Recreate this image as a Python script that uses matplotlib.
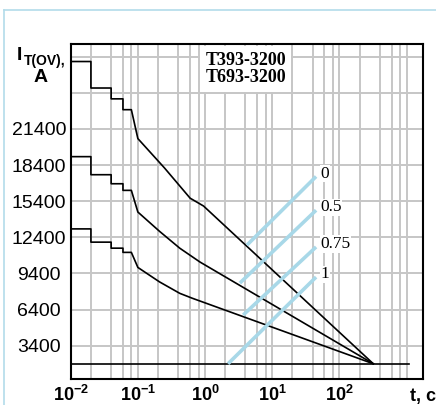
import matplotlib
matplotlib.use("Agg")
import matplotlib.pyplot as plt
from matplotlib.lines import Line2D

# overload current curves (t in s, current in A)
t_0 = [0.01, 0.02, 0.02, 0.04, 0.04, 0.06, 0.06, 0.08, 0.1, 0.25, 0.6, 0.95, 320]
i_0 = [27000, 27000, 24800, 24800, 23900, 23900, 23000, 23000, 20600, 18150, 15650, 15000, 1900]

t_05 = [0.01, 0.02, 0.02, 0.04, 0.04, 0.06, 0.06, 0.08, 0.1, 0.21, 0.42, 0.84, 320]
i_05 = [19100, 19100, 17600, 17600, 16850, 16850, 16300, 16300, 14500, 12900, 11500, 10350, 1900]

t_1 = [0.01, 0.02, 0.02, 0.04, 0.04, 0.06, 0.06, 0.08, 0.1, 0.21, 0.42, 0.64, 320]
i_1 = [13100, 13100, 12000, 12000, 11500, 11500, 11150, 11150, 9900, 8700, 7750, 7350, 1900]

base_t = [0.01, 1100]
base_i = [1900, 1900]

# light blue load-factor lines
blue_labels = ["0", "0.5", "0.75", "1"]
blue_t_start = [4.2, 3.3, 3.7, 2.2]
blue_t_end = [45, 45, 45, 45]
blue_i_start = [11750, 8600, 5950, 1900]
blue_i_end = [17450, 14650, 11600, 9100]

y_ticks = [3400, 6400, 9400, 12400, 15400, 18400, 21400, 24400, 27400]
y_labels = ["3400", "6400", "9400", "12400", "15400", "18400", "21400", "", ""]
x_ticks = [0.01, 0.1, 1, 10, 100, 1000]
x_labels = [r"$\mathbf{10^{-2}}$", r"$\mathbf{10^{-1}}$", r"$\mathbf{10^{0}}$",
            r"$\mathbf{10^{1}}$", r"$\mathbf{10^{2}}$", ""]
x_minor = [m * d for d in [0.01, 0.1, 1, 10, 100] for m in [2, 4, 6, 8]]

plt.rcParams["font.family"] = ["Liberation Sans", "DejaVu Sans"]
plt.rcParams["mathtext.fontset"] = "custom"
plt.rcParams["mathtext.rm"] = "Liberation Sans"
plt.rcParams["mathtext.bf"] = "Liberation Sans:bold"

W, H = 436, 405
fig = plt.figure(figsize=(W / 100, H / 100), dpi=100)
ax = fig.add_axes([70.7 / W, 1 - 379.3 / H, 352 / W, 335 / H])

ax.set_xscale("log")
ax.set_xlim(0.01, 1740)
ax.set_ylim(610, 28430)

ax.set_xticks(x_ticks, x_labels)
ax.set_xticks(x_minor, minor=True)
ax.set_yticks(y_ticks, y_labels)
ax.tick_params(which="both", length=0)
ax.tick_params(axis="x", labelsize=13, pad=4)
ax.tick_params(axis="y", labelsize=14, pad=23)
for lab in ax.get_yticklabels():
    lab.set_ha("center")

ax.grid(which="both", color="#c6c6c6", linewidth=1.4)
ax.set_axisbelow(True)
for sp in ax.spines.values():
    sp.set_linewidth(1.5)
    sp.set_color("black")

for t, i in [(t_0, i_0), (t_05, i_05), (t_1, i_1), (base_t, base_i)]:
    ax.plot(t, i, color="black", linewidth=1.2, zorder=3)

for k in range(len(blue_labels)):
    ax.plot([blue_t_start[k], blue_t_end[k]], [blue_i_start[k], blue_i_end[k]],
            color="#a8d8e8", linewidth=2.6, solid_capstyle="butt", zorder=4)
    ax.annotate(blue_labels[k], (blue_t_end[k], blue_i_end[k]), xytext=(3, 2),
                textcoords="offset points", ha="left", va="center",
                fontsize=12.5, family="Liberation Serif", zorder=5,
                bbox=dict(facecolor="white", edgecolor="none", pad=0.5))

ax.text(245.5 / W, 1 - 69 / H, "T393-3200\nT693-3200", transform=fig.transFigure,
        ha="center", va="center", fontsize=13, fontweight="bold",
        family="Liberation Serif", linespacing=1.05, zorder=6,
        bbox=dict(facecolor="white", edgecolor="none", boxstyle="square,pad=0.3"))

# axis titles
fig.text(17 / W, 1 - 60 / H, "I", fontsize=14, fontweight="bold", va="baseline")
fig.text(23.5 / W, 1 - 65 / H, "T(OV),", fontsize=10, fontweight="bold", va="baseline")
fig.text(41 / W, 1 - 82 / H, "A", fontsize=14, fontweight="bold", ha="center", va="baseline")
fig.text(410 / W, 1 - 401 / H, "t, c", fontsize=13, fontweight="bold", va="baseline")

# light blue frame
frame_c = "#b3dcea"
fig.add_artist(Line2D([3.7 / W, 1], [1 - 10.3 / H, 1 - 10.3 / H], color=frame_c, linewidth=1.2))
fig.add_artist(Line2D([3.7 / W, 3.7 / W], [0, 1 - 10.3 / H], color=frame_c, linewidth=1.2))

fig.savefig("out.png", dpi=100)
